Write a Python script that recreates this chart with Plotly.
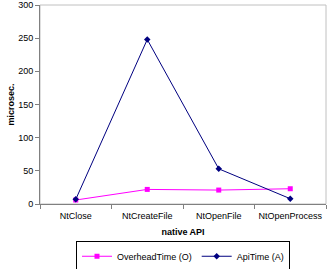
import plotly.graph_objects as go

categories = ["NtClose", "NtCreateFile", "NtOpenFile", "NtOpenProcess"]
overhead_time = [6, 22, 21, 23]
api_time = [7, 248, 53, 8]
y_ticks = [0, 50, 100, 150, 200, 250, 300]

fig = go.Figure()
fig.add_trace(go.Scatter(
    x=categories, y=overhead_time, name="OverheadTime (O)", mode="lines+markers",
    line=dict(color="#FF00FF", width=1), marker=dict(symbol="square", size=5, color="#FF00FF")))
fig.add_trace(go.Scatter(
    x=categories, y=api_time, name="ApiTime (A)", mode="lines+markers",
    line=dict(color="#000080", width=1), marker=dict(symbol="diamond", size=5, color="#000080")))

font = dict(family="Arial, Liberation Sans, sans-serif", size=9, color="black")
fig.update_layout(
    width=329, height=269, margin=dict(l=40, r=3, t=5, b=65),
    paper_bgcolor="white", plot_bgcolor="white", font=font,
    xaxis=dict(type="category", range=[-0.5, 3.5], showgrid=False, showline=True,
               linecolor="#808080", linewidth=1, ticks="outside", tickson="boundaries",
               ticklen=4, tickcolor="#808080", zeroline=False, tickangle=0,
               automargin=False, ticklabelstandoff=3,
               title=dict(text="<b>native API</b>", font=dict(size=9), standoff=8)),
    yaxis=dict(range=[0, 300], tickvals=y_ticks, showgrid=False, showline=True,
               linecolor="#808080", linewidth=1, ticks="outside", ticklen=4,
               tickcolor="#808080", zeroline=False, automargin=False,
               title=dict(text="<b>microsec.</b>", font=dict(size=9), standoff=2)),
    legend=dict(orientation="h", x=0.5, xanchor="center",
                yref="container", y=0.105, yanchor="top",
                bordercolor="black", borderwidth=1, font=dict(size=9),
                itemwidth=30, tracegroupgap=0),
    shapes=[dict(type="rect", xref="paper", yref="paper", x0=0, x1=1, y0=0, y1=1,
                 line=dict(color="#C0C0C0", width=1), layer="below")],
)
fig.write_html("out.html")
